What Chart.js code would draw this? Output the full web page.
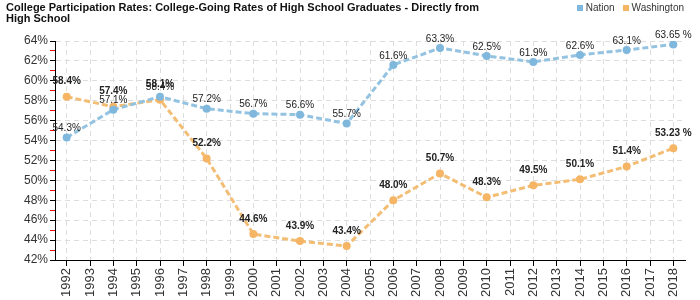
<!DOCTYPE html>
<html>
<head>
<meta charset="utf-8">
<script src="https://cdn.jsdelivr.net/npm/chart.js@4/dist/chart.umd.min.js"></script>
<style>
  body { margin: 0; background: #fff; font-family: "Liberation Sans", Arial, sans-serif; }
  #wrap { position: relative; width: 700px; height: 300px; }
  #title { position: absolute; left: 6px; top: 2px; width: 500px; font-weight: bold; font-size: 11px; line-height: 11px; color: #111; }
  #legend { position: absolute; right: 16px; top: 2px; font-size: 10px; line-height: 11px; color: #333; }
  #legend span.box { display: inline-block; width: 6px; height: 6px; margin: 0 3px 0 8px; }
</style>
</head>
<body>
<div id="wrap">
  <canvas id="chart" width="700" height="300"></canvas>
  <div id="title">College Participation Rates: College-Going Rates of High School Graduates - Directly from High School</div>
  <div id="legend"><span class="box" style="background:#7fb8dc"></span>Nation<span class="box" style="background:#f5b565"></span>Washington</div>
</div>
<script>
// Années (une étiquette par an, les valeurs tous les deux ans)
const years = ['1992','1993','1994','1995','1996','1997','1998','1999','2000','2001','2002','2003','2004','2005',
               '2006','2007','2008','2009','2010','2011','2012','2013','2014','2015','2016','2017','2018'];
const nation = [54.3, null, 57.1, null, 58.4, null, 57.2, null, 56.7, null, 56.6, null, 55.7, null,
                61.6, null, 63.3, null, 62.5, null, 61.9, null, 62.6, null, 63.1, null, 63.65];
const washington = [58.4, null, 57.4, null, 58.1, null, 52.2, null, 44.6, null, 43.9, null, 43.4, null,
                    48.0, null, 50.7, null, 48.3, null, 49.5, null, 50.1, null, 51.4, null, 53.23];
const nationLabels = ['54.3%','','57.1%','','58.4%','','57.2%','','56.7%','','56.6%','','55.7%','',
                      '61.6%','','63.3%','','62.5%','','61.9%','','62.6%','','63.1%','','63.65 %'];
const washLabels = ['58.4%','','57.4%','','58.1%','','52.2%','','44.6%','','43.9%','','43.4%','',
                    '48.0%','','50.7%','','48.3%','','49.5%','','50.1%','','51.4%','','53.23 %'];

const valueLabels = {
  id: 'valueLabels',
  afterDatasetsDraw(chart) {
    const ctx = chart.ctx;
    ctx.save();
    ctx.textAlign = 'center';
    ctx.textBaseline = 'middle';
    ctx.fillStyle = '#222';
    chart.data.datasets.forEach((ds, i) => {
      const labels = i === 0 ? nationLabels : washLabels;
      const off = i === 0 ? 9 : 15;
      ctx.font = (i === 0 ? '' : 'bold ') + '10px "Liberation Sans", Arial, sans-serif';
      chart.getDatasetMeta(i).data.forEach((pt, j) => {
        if (ds.data[j] == null) return;
        ctx.fillText(labels[j], pt.x, pt.y - off);
      });
    });
    ctx.restore();
  }
};

new Chart(document.getElementById('chart'), {
  type: 'line',
  data: {
    labels: years,
    datasets: [{
      label: 'Nation',
      data: nation,
      borderColor: '#93c3e1',
      backgroundColor: '#7fb8dc',
      borderWidth: 3,
      borderDash: [6, 3],
      pointRadius: 4,
      pointBorderWidth: 0,
      spanGaps: true
    }, {
      label: 'Washington',
      data: washington,
      borderColor: '#f3bd74',
      backgroundColor: '#f5b565',
      borderWidth: 3,
      borderDash: [6, 3],
      pointRadius: 4,
      pointBorderWidth: 0,
      spanGaps: true
    }]
  },
  options: {
    responsive: false,
    animation: false,
    layout: { padding: { top: 41, right: 15, left: 0, bottom: 0 } },
    plugins: {
      legend: { display: false },
      tooltip: { enabled: false }
    },
    scales: {
      x: {
        offset: true,
        afterFit: (s) => { s.height = 40; },
        grid: {
          color: '#dddddd',
          tickColor: '#000',
          tickLength: 6,
          tickBorderDash: []
        },
        border: { color: '#000', dash: [5, 4] },
        ticks: {
          minRotation: 90, maxRotation: 90, autoSkip: false,
          padding: 2,
          color: '#333', font: { size: 13, family: '"Liberation Sans", Arial, sans-serif' }
        }
      },
      y: {
        min: 42, max: 64,
        afterFit: (s) => { s.width = 55; },
        grid: {
          color: (c) => (c.tick && c.tick.value % 2 !== 0) ? 'rgba(0,0,0,0)' : '#dddddd',
          tickColor: (c) => (c.tick && c.tick.value % 2 !== 0) ? '#ff0000' : '#000',
          tickLength: 5,
          tickBorderDash: []
        },
        border: { color: '#000', dash: [5, 4] },
        ticks: {
          stepSize: 1,
          autoSkip: false,
          padding: 2,
          color: '#333',
          font: { size: 12, family: '"Liberation Sans", Arial, sans-serif' },
          callback: (v) => v % 2 === 0 ? v + '%' : ''
        }
      }
    }
  },
  plugins: [valueLabels]
});
</script>
</body>
</html>
